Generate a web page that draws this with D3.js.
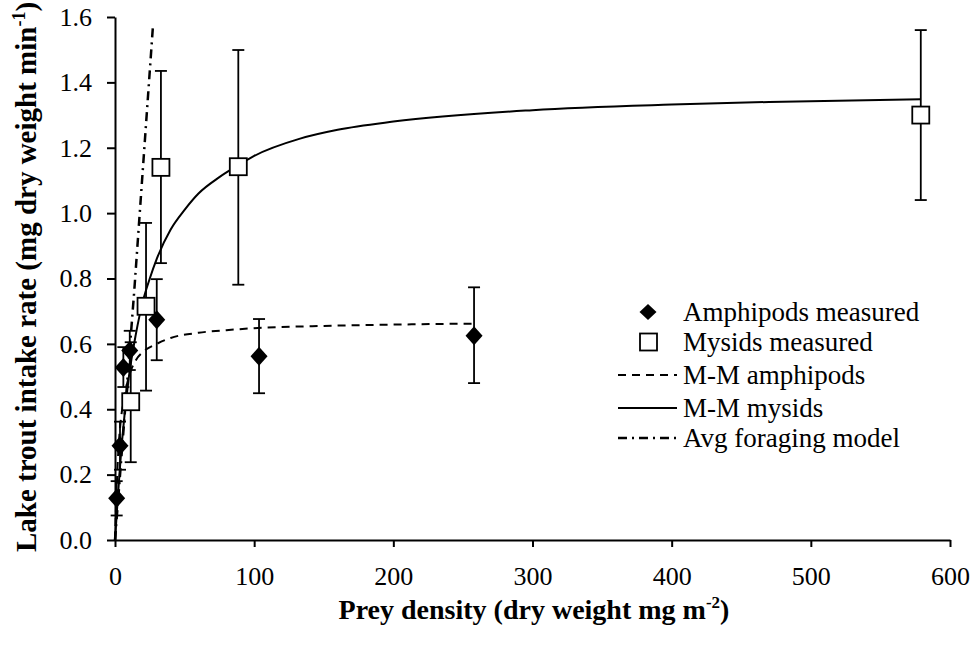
<!DOCTYPE html>
<html>
<head>
<meta charset="utf-8">
<script src="https://cdn.jsdelivr.net/npm/d3@7"></script>
<style>
  body { margin: 0; background: #fff; }
  svg text { font-family: "Liberation Serif", "Times New Roman", "DejaVu Serif", serif; fill: #000; }
</style>
</head>
<body>
<svg id="chart" width="973" height="647"></svg>
<script>
// measured points
const amphX = [1.2, 3.6, 6.0, 10.6, 30, 103.5, 258];
const amphY = [0.128, 0.288, 0.528, 0.580, 0.674, 0.562, 0.625];
const amphLo = [0.075, 0.215, 0.468, 0.520, 0.550, 0.449, 0.480];
const amphHi = [0.180, 0.362, 0.590, 0.640, 0.798, 0.676, 0.773];

const mysX = [11.3, 22.3, 33, 88.6, 579];
const mysY = [0.423, 0.715, 1.140, 1.142, 1.300];
const mysLo = [0.238, 0.457, 0.847, 0.781, 1.040];
const mysHi = [0.605, 0.970, 1.435, 1.499, 1.560];

// fitted curves, sampled from the figure
const mmAmphX = [0, 2, 4, 6, 10, 15, 20, 30, 40, 60, 80, 100, 150, 200, 258];
const mmAmphY = [0, 0.24, 0.36, 0.42, 0.50, 0.55, 0.575, 0.60, 0.618, 0.634, 0.642, 0.648, 0.655, 0.659, 0.662];

const mmMysX = [0, 5, 10, 15, 20, 25, 30, 40, 50, 60, 75, 90, 100, 133, 160, 200, 300, 400, 470, 579];
const mmMysY = [0, 0.30, 0.50, 0.63, 0.73, 0.80, 0.86, 0.95, 1.01, 1.06, 1.11, 1.15, 1.175, 1.228, 1.255, 1.28, 1.315, 1.332, 1.34, 1.348];

const forageX = [0, 13.8, 27.4];
const forageY = [0, 0.76, 1.58];

const xTicks = [0, 100, 200, 300, 400, 500, 600];
const yTicks = [0, 0.2, 0.4, 0.6, 0.8, 1.0, 1.2, 1.4, 1.6];

const legendLabels = ['Amphipods measured', 'Mysids measured', 'M-M amphipods', 'M-M mysids', 'Avg foraging model'];

const svg = d3.select('#chart');
const x = d3.scaleLinear().domain([0, 600]).range([115, 950]);
const y = d3.scaleLinear().domain([0, 1.6]).range([540, 17]);

// axes
const xAxis = svg.append('g').attr('transform', 'translate(0,540)')
  .call(d3.axisBottom(x).tickValues(xTicks).tickSize(7).tickSizeOuter(0).tickPadding(20).tickFormat(d3.format('d')));
const yAxis = svg.append('g').attr('transform', 'translate(115,0)')
  .call(d3.axisLeft(y).tickValues(yTicks).tickSize(8).tickSizeOuter(0).tickPadding(15).tickFormat(d3.format('.1f')));
[xAxis, yAxis].forEach(a => {
  a.attr('font-family', null).attr('font-size', null);
  a.select('.domain').attr('stroke', '#000').attr('stroke-width', 2);
  a.selectAll('.tick line').attr('stroke', '#000').attr('stroke-width', 2);
  a.selectAll('.tick text').attr('fill', '#000').style('font-size', '26px');
});

// axis titles
const xt = svg.append('text').attr('x', 534).attr('y', 619).attr('text-anchor', 'middle')
  .style('font-size', '28px').style('font-weight', 'bold');
xt.append('tspan').text('Prey density (dry weight mg m');
xt.append('tspan').attr('dy', -11).style('font-size', '17px').text('-2');
xt.append('tspan').attr('dy', 11).text(')');

const yt = svg.append('text').attr('transform', 'translate(36,277) rotate(-90)').attr('text-anchor', 'middle')
  .style('font-size', '29px').style('font-weight', 'bold');
yt.append('tspan').text('Lake trout intake rate (mg dry weight min');
yt.append('tspan').attr('dy', -11).style('font-size', '18px').text('-1');
yt.append('tspan').attr('dy', 11).text(')');

// curves
const line = d3.line().x(d => x(d[0])).y(d => y(d[1])).curve(d3.curveMonotoneX);
svg.append('path').datum(d3.zip(mmAmphX, mmAmphY)).attr('d', line)
  .attr('fill', 'none').attr('stroke', '#000').attr('stroke-width', 2).attr('stroke-dasharray', '8,6');
svg.append('path').datum(d3.zip(mmMysX, mmMysY)).attr('d', line)
  .attr('fill', 'none').attr('stroke', '#000').attr('stroke-width', 2);
svg.append('path').datum(d3.zip(forageX, forageY)).attr('d', d3.line().x(d => x(d[0])).y(d => y(d[1])))
  .attr('fill', 'none').attr('stroke', '#000').attr('stroke-width', 2.5).attr('stroke-dasharray', '9,5,2,5');

// error bars
function errBars(xs, lo, hi) {
  const g = svg.append('g').attr('stroke', '#000').attr('stroke-width', 1.8);
  xs.forEach((v, i) => {
    g.append('line').attr('x1', x(v)).attr('x2', x(v)).attr('y1', y(lo[i])).attr('y2', y(hi[i]));
    g.append('line').attr('x1', x(v) - 6).attr('x2', x(v) + 6).attr('y1', y(lo[i])).attr('y2', y(lo[i]));
    g.append('line').attr('x1', x(v) - 6).attr('x2', x(v) + 6).attr('y1', y(hi[i])).attr('y2', y(hi[i]));
  });
}
errBars(amphX, amphLo, amphHi);
errBars(mysX, mysLo, mysHi);

// markers
const diamond = 'M0,-9.5L8.5,0L0,9.5L-8.5,0Z';
svg.append('g').selectAll('path').data(d3.zip(amphX, amphY)).join('path')
  .attr('d', diamond).attr('transform', d => `translate(${x(d[0])},${y(d[1])})`).attr('fill', '#000');
svg.append('g').selectAll('rect').data(d3.zip(mysX, mysY)).join('rect')
  .attr('x', d => x(d[0]) - 8.5).attr('y', d => y(d[1]) - 8.5).attr('width', 17).attr('height', 17)
  .attr('fill', '#fff').attr('stroke', '#000').attr('stroke-width', 1.8);

// legend
const lg = svg.append('g');
const legY = [312, 342, 375, 408, 438];
legendLabels.forEach((t, i) => {
  const ly = legY[i];
  lg.append('text').attr('x', 683).attr('y', ly + 9).style('font-size', '27px').text(t);
  if (i === 0) lg.append('path').attr('d', 'M0,-8L8.5,0L0,8L-8.5,0Z').attr('transform', `translate(648,${ly})`).attr('fill', '#000');
  if (i === 1) lg.append('rect').attr('x', 640).attr('y', ly - 8.5).attr('width', 17).attr('height', 17)
    .attr('fill', '#fff').attr('stroke', '#000').attr('stroke-width', 1.8);
  if (i >= 2) {
    const ln = lg.append('line').attr('x1', 618).attr('x2', 677).attr('y1', ly).attr('y2', ly)
      .attr('stroke', '#000').attr('stroke-width', 2);
    if (i === 2) ln.attr('stroke-dasharray', '8,6');
    if (i === 4) ln.attr('stroke-dasharray', '9,5,2,5').attr('stroke-width', 2.5);
  }
});
</script>
</body>
</html>
